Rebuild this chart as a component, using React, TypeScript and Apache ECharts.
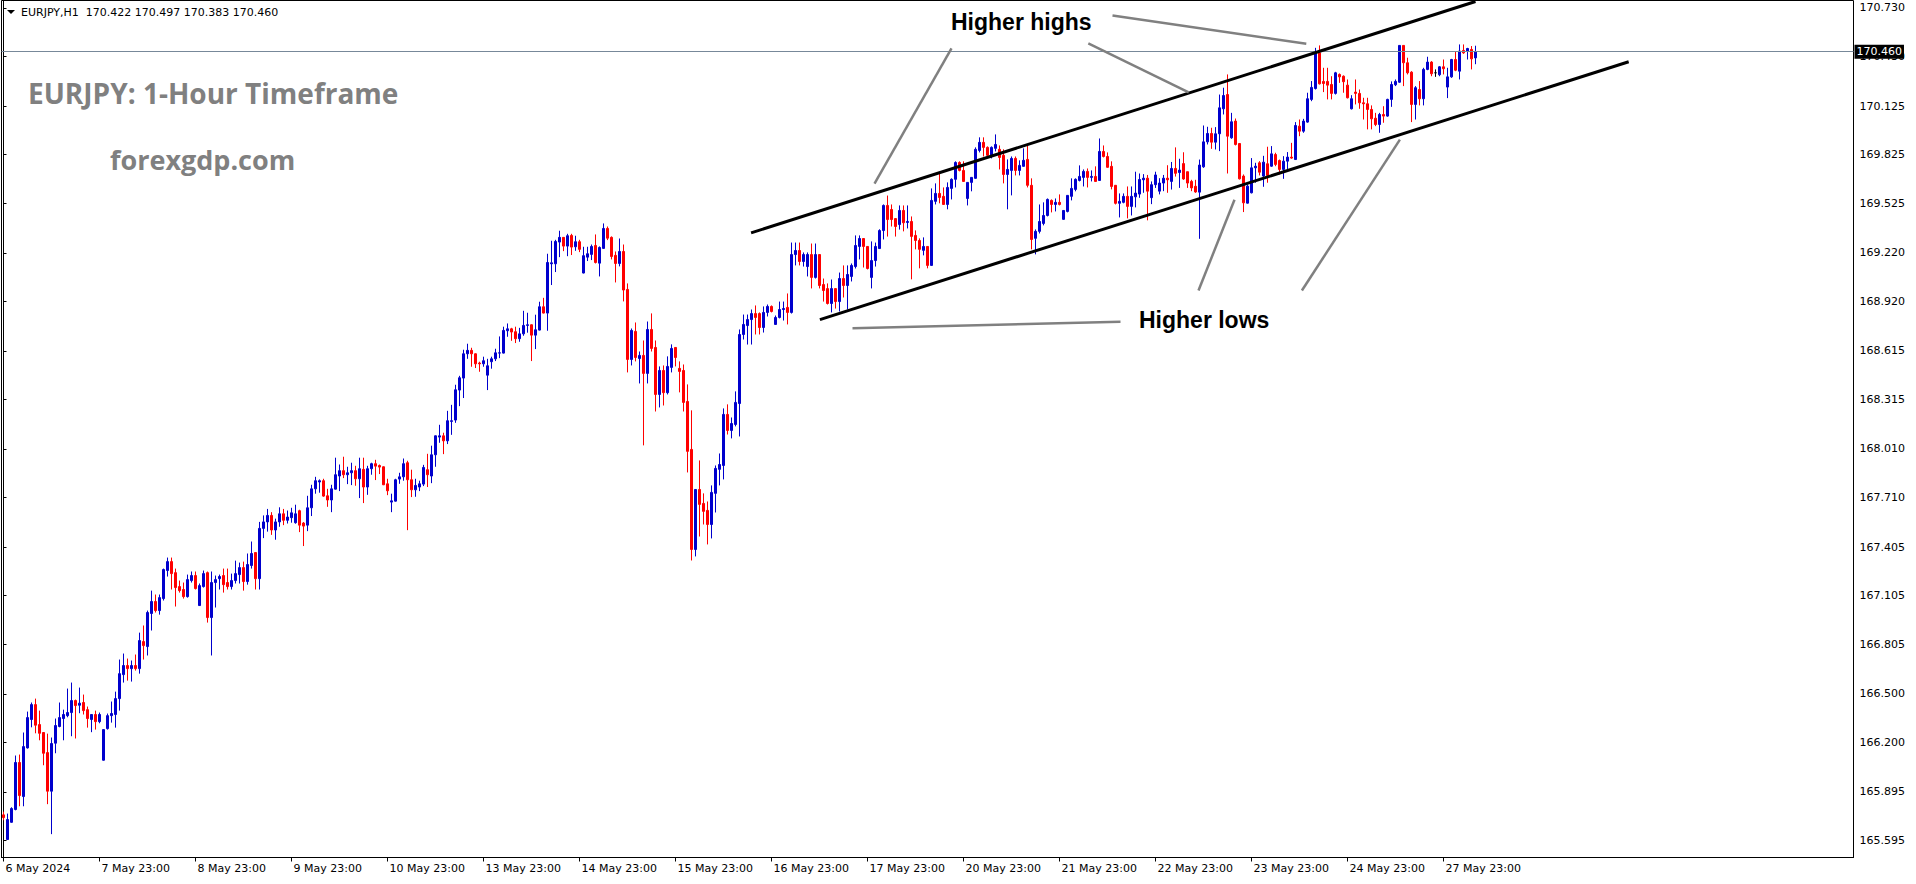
import React, { useEffect, useRef } from "react";
import * as echarts from "echarts";

// [open, high, low, close] per hourly bar, grouped by trading day
const may06 = [[165.753,165.773,165.720,165.736]];
const may07 = [
[165.601,165.761,165.598,165.724],[165.707,165.800,165.705,165.792],[165.786,166.119,165.781,166.076],[166.076,166.125,165.806,165.872],
[165.866,166.261,165.806,166.174],[166.166,166.390,166.162,166.353],[166.341,166.446,166.293,166.433],[166.433,166.470,166.256,166.306],
[166.310,166.396,166.213,166.256],[166.261,166.263,166.059,166.133],[166.137,166.254,165.819,165.899],[165.899,166.230,165.634,166.193],
[166.195,166.347,166.133,166.304],[166.298,166.446,166.293,166.353],[166.347,166.402,166.213,166.372],[166.365,166.532,166.355,166.384],
[166.384,166.569,166.238,166.458],[166.458,166.464,166.224,166.427],[166.429,166.538,166.380,166.442],[166.446,166.495,166.372,166.396],
[166.402,166.421,166.291,166.347],[166.341,166.374,166.263,166.372],[166.372,166.396,166.279,166.328],[166.328,166.384,166.318,166.372]];
const may08 = [
[166.090,166.281,166.088,166.279],[166.285,166.378,166.279,166.365],[166.365,166.452,166.322,166.378],[166.372,166.513,166.291,166.470],
[166.470,166.711,166.396,166.624],[166.618,166.748,166.569,166.674],[166.674,166.717,166.581,166.655],[166.655,166.705,166.575,166.674],
[166.674,166.742,166.643,166.655],[166.655,166.877,166.624,166.828],[166.822,166.921,166.711,166.797],[166.791,167.013,166.736,167.001],
[166.995,167.136,166.890,167.069],[167.069,167.112,167.001,167.013],[167.013,167.112,166.988,167.093],[167.087,167.272,167.075,167.266],
[167.260,167.340,167.223,167.315],[167.315,167.340,167.143,167.241],[167.247,167.272,167.038,167.155],[167.161,167.198,167.124,167.136],
[167.143,167.186,167.087,167.099],[167.099,167.235,167.093,167.204],[167.198,167.254,167.186,167.229],[167.229,167.254,167.143,167.149]];
const may09 = [
[167.044,167.180,167.042,167.167],[167.161,167.260,167.155,167.241],[167.247,167.254,166.939,166.970],[166.970,167.254,166.736,167.186],
[167.186,167.229,167.032,167.204],[167.210,167.235,167.143,167.223],[167.229,167.272,167.124,167.173],[167.186,167.272,167.143,167.161],
[167.161,167.241,167.143,167.198],[167.198,167.321,167.180,167.241],[167.235,167.309,167.180,167.278],[167.278,167.315,167.136,167.192],
[167.192,167.365,167.173,167.297],[167.291,167.439,167.272,167.365],[167.371,167.371,167.143,167.210],[167.210,167.560,167.143,167.520],
[167.520,167.600,167.460,167.560],[167.560,167.640,167.500,167.600],[167.600,167.620,167.480,167.510],[167.510,167.580,167.450,167.560],
[167.560,167.650,167.530,167.610],[167.610,167.640,167.540,167.570],[167.570,167.630,167.550,167.590],[167.586,167.647,167.555,167.616]];
const may10 = [
[167.555,167.666,167.549,167.610],[167.629,167.635,167.497,167.540],[167.553,167.559,167.411,167.534],[167.540,167.721,167.503,167.647],
[167.647,167.789,167.596,167.764],[167.764,167.838,167.734,167.814],[167.806,167.822,167.740,167.814],[167.814,167.826,167.715,167.719],
[167.721,167.764,167.653,167.695],[167.695,167.789,167.620,167.764],[167.762,167.956,167.760,167.851],[167.843,167.914,167.750,167.876],
[167.876,167.962,167.830,167.851],[167.851,167.900,167.793,167.863],[167.863,167.925,167.787,167.876],[167.876,167.906,167.783,167.826],
[167.826,167.956,167.707,167.888],[167.884,167.956,167.676,167.775],[167.775,167.906,167.727,167.888],[167.888,167.925,167.851,167.919],
[167.919,167.943,167.818,167.904],[167.908,167.914,167.855,167.898],[167.900,167.902,167.787,167.789],[167.795,167.826,167.725,167.752]];
const may13 = [
[167.682,167.734,167.620,167.690],[167.688,167.826,167.686,167.820],[167.824,167.863,167.795,167.838],[167.838,167.951,167.814,167.919],
[167.925,167.937,167.509,167.820],[167.820,167.882,167.713,167.758],[167.758,167.826,167.715,167.785],[167.775,167.814,167.750,167.795],
[167.793,167.912,167.781,167.896],[167.882,167.980,167.775,167.851],[167.843,168.030,167.799,167.974],[167.974,168.093,167.900,168.091],
[168.083,168.159,168.048,168.091],[168.091,168.110,167.978,168.060],[168.060,168.245,168.040,168.184],[168.180,168.282,168.097,168.184],
[168.188,168.406,168.171,168.375],[168.373,168.461,168.274,168.449],[168.447,168.622,168.324,168.597],[168.597,168.659,168.566,168.618],
[168.618,168.634,168.517,168.597],[168.597,168.599,168.509,168.535],[168.540,168.548,168.486,168.535],[168.535,168.579,168.517,168.554]];
const may14 = [
[168.465,168.566,168.373,168.523],[168.548,168.579,168.505,168.566],[168.566,168.628,168.552,168.603],[168.601,168.704,168.570,168.603],
[168.601,168.764,168.599,168.741],[168.739,168.784,168.702,168.751],[168.751,168.757,168.677,168.731],[168.733,168.764,168.663,168.690],
[168.690,168.757,168.671,168.720],[168.720,168.862,168.708,168.772],[168.772,168.850,168.727,168.776],[168.776,168.778,168.552,168.712],
[168.712,168.838,168.626,168.745],[168.743,168.918,168.741,168.887],[168.887,168.942,168.846,168.848],[168.848,169.214,168.739,169.160],
[169.152,169.294,169.021,169.158],[169.152,169.300,169.101,169.290],[169.286,169.356,169.193,169.315],[169.315,169.317,169.230,169.261],
[169.261,169.337,169.199,169.325],[169.327,169.337,169.206,169.255],[169.257,169.325,169.232,169.288],[169.288,169.300,169.224,169.241]];
const may15 = [
[169.095,169.257,169.093,169.202],[169.193,169.257,169.169,169.214],[169.210,169.271,169.175,169.259],[169.265,169.333,169.154,169.160],
[169.156,169.259,169.074,169.253],[169.247,169.401,169.245,169.370],[169.370,169.382,169.298,169.310],[169.315,169.321,169.179,169.197],
[169.204,169.228,169.037,169.154],[169.154,169.308,169.136,169.228],[169.228,169.271,168.920,168.990],[168.994,169.031,168.482,168.562],
[168.562,168.753,168.525,168.741],[168.735,168.790,168.550,168.574],[168.568,168.611,168.414,168.587],[168.587,168.679,168.032,168.476],
[168.476,168.796,168.414,168.747],[168.747,168.846,168.611,168.630],[168.636,168.679,168.241,168.346],[168.346,168.519,168.266,168.494],
[168.494,168.525,168.278,168.357],[168.357,168.581,168.346,168.519],[168.513,168.655,168.482,168.630],[168.636,168.638,168.519,168.574]];
const may16 = [
[168.507,168.550,168.359,168.488],[168.494,168.531,168.241,168.297],[168.303,168.408,167.865,167.995],[168.007,168.248,167.322,167.390],
[167.390,167.762,167.347,167.760],[167.760,167.939,167.470,167.668],[167.674,167.736,167.544,167.625],[167.631,167.686,167.421,167.544],
[167.544,167.785,167.458,167.742],[167.736,167.908,167.618,167.890],[167.884,167.982,167.785,167.914],[167.908,168.260,167.822,168.223],
[168.223,168.285,168.099,168.124],[168.124,168.204,168.075,168.167],[168.161,168.365,168.149,168.297],[168.290,168.747,168.087,168.716],
[168.716,168.839,168.685,168.778],[168.771,168.839,168.654,168.808],[168.808,168.870,168.654,168.845],[168.845,168.895,168.716,168.821],
[168.845,168.852,168.716,168.759],[168.759,168.889,168.728,168.852],[168.852,168.901,168.827,168.889],[168.889,168.895,168.852,168.858]];
const may17 = [
[168.778,168.833,168.776,168.821],[168.821,168.919,168.815,168.870],[168.870,168.919,168.802,168.876],[168.883,168.969,168.778,168.852],
[168.852,169.283,168.845,169.209],[169.209,169.283,169.142,169.234],[169.234,169.283,169.142,169.166],[169.166,169.222,169.135,169.209],
[169.135,169.222,169.074,169.209],[169.209,169.277,169.000,169.068],[169.068,169.277,169.061,169.209],[169.209,169.211,169.000,169.018],
[169.024,169.061,168.919,168.987],[168.999,169.031,168.901,168.907],[168.907,169.055,168.852,168.999],[168.999,169.001,168.876,168.919],
[168.919,169.098,168.858,169.061],[169.061,169.142,168.944,169.018],[169.018,169.142,168.870,169.086],[169.074,169.154,169.043,169.142],
[169.135,169.327,169.123,169.265],[169.259,169.327,169.179,169.308],[169.308,169.310,169.129,169.259],[169.259,169.261,169.117,169.123]];
const may20 = [
[169.068,169.290,169.000,169.172],[169.172,169.283,169.135,169.259],[169.246,169.365,169.244,169.357],[169.357,169.518,169.302,169.512],
[169.512,169.573,169.320,169.425],[169.487,169.518,169.382,169.425],[169.431,169.433,169.320,169.382],[169.394,169.512,169.363,169.481],
[169.481,169.512,169.352,169.405],[169.407,169.512,169.370,169.413],[169.413,169.444,169.056,169.321],[169.327,169.358,169.241,169.296],
[169.296,169.309,169.124,169.241],[169.235,169.315,169.204,169.259],[169.259,169.261,169.124,169.142],[169.142,169.617,169.140,169.543],
[169.537,169.648,169.518,169.586],[169.586,169.710,169.525,169.561],[169.568,169.623,169.516,169.518],[169.518,169.654,169.488,169.623],
[169.617,169.679,169.549,169.673],[169.673,169.784,169.623,169.777],[169.777,169.784,169.722,169.728],[169.728,169.784,169.658,169.660]];
const may21 = [
[169.555,169.656,169.512,169.654],[169.654,169.687,169.599,169.685],[169.679,169.870,169.677,169.858],[169.851,169.932,169.839,169.901],
[169.901,169.932,169.814,169.870],[169.870,169.876,169.814,169.821],[169.821,169.876,169.802,169.870],[169.864,169.950,169.845,169.888],
[169.858,169.882,169.734,169.808],[169.821,169.858,169.648,169.703],[169.703,169.796,169.488,169.734],[169.728,169.814,169.574,169.802],
[169.802,169.814,169.697,169.728],[169.728,169.790,169.697,169.759],[169.753,169.864,169.751,169.790],[169.796,169.882,169.623,169.636],
[169.636,169.679,169.241,169.302],[169.309,169.364,169.210,169.352],[169.352,169.518,169.339,169.413],[169.401,169.531,169.389,169.450],
[169.450,169.555,169.444,169.549],[169.543,169.549,169.469,169.518],[169.518,169.555,169.475,169.531],[169.531,169.580,169.512,169.518]];
const may22 = [
[169.426,169.483,169.424,169.481],[169.475,169.576,169.469,169.574],[169.568,169.679,169.543,169.617],[169.611,169.679,169.599,169.673],
[169.666,169.759,169.660,169.691],[169.685,169.734,169.629,169.722],[169.722,169.740,169.623,169.685],[169.685,169.728,169.660,169.691],
[169.691,169.753,169.658,169.660],[169.666,169.925,169.664,169.845],[169.845,169.882,169.808,169.814],[169.814,169.839,169.745,169.747],
[169.753,169.784,169.611,169.629],[169.636,169.638,169.518,169.525],[169.525,169.586,169.438,169.537],[169.531,169.586,169.525,169.568],
[169.568,169.629,169.432,169.506],[169.506,169.629,169.450,169.568],[169.565,169.720,169.500,169.588],[169.582,169.709,169.559,169.672],
[169.670,169.705,169.590,169.680],[169.680,169.700,169.420,169.600],[169.560,169.660,169.520,169.640],[169.640,169.720,169.620,169.700]];
const may23 = [
[169.600,169.680,169.580,169.650],[169.650,169.700,169.600,169.680],[169.680,169.760,169.590,169.670],[169.660,169.780,169.610,169.740],
[169.740,169.870,169.690,169.710],[169.715,169.800,169.620,169.730],[169.770,169.840,169.670,169.675],[169.720,169.720,169.620,169.650],
[169.660,169.670,169.600,169.620],[169.630,169.670,169.590,169.595],[169.594,169.795,169.306,169.761],[169.750,170.005,169.744,169.904],
[169.904,169.997,169.888,169.956],[169.956,169.991,169.861,169.902],[169.902,169.995,169.857,169.954],[169.954,170.196,169.847,170.114],
[170.108,170.238,170.073,170.190],[170.196,170.320,169.709,169.939],[169.929,170.083,169.923,170.028],[170.032,170.048,169.882,169.888],
[169.894,169.896,169.672,169.676],[169.693,169.703,169.471,169.528],[169.526,169.641,169.524,169.631],[169.590,169.804,169.586,169.744]];
const may24 = [
[169.744,169.775,169.652,169.754],[169.775,169.785,169.697,169.717],[169.693,169.818,169.627,169.779],[169.769,169.874,169.652,169.697],
[169.754,169.878,169.750,169.830],[169.826,169.837,169.754,169.765],[169.789,169.795,169.703,169.734],[169.734,169.816,169.676,169.785],
[169.785,169.841,169.734,169.810],[169.810,169.898,169.800,169.804],[169.795,170.026,169.793,170.005],[170.001,170.042,169.939,169.970],
[169.970,170.046,169.960,170.032],[170.026,170.207,170.022,170.170],[170.166,170.279,170.155,170.240],[170.233,170.484,170.227,170.453],
[170.453,170.499,170.258,170.262],[170.277,170.361,170.211,170.264],[170.277,170.361,170.166,170.254],[170.258,170.309,170.166,170.203],
[170.203,170.336,170.196,170.330],[170.320,170.326,170.268,170.305],[170.309,170.314,170.207,170.275],[170.254,170.289,170.172,170.176]];
const may27 = [
[170.108,170.192,170.104,170.170],[170.211,170.289,170.135,170.203],[170.203,170.227,170.108,170.145],[170.145,170.176,170.042,170.139],
[170.139,170.176,169.981,170.104],[170.104,170.129,169.981,170.046],[170.050,170.083,170.001,170.011],[170.011,170.083,169.960,170.073],
[170.073,170.124,170.022,170.063],[170.063,170.170,170.059,170.166],[170.166,170.277,170.120,170.258],[170.256,170.289,170.248,170.277],
[170.272,170.499,170.268,170.499],[170.499,170.499,170.248,170.392],[170.392,170.423,170.320,170.330],[170.334,170.340,170.026,170.135],
[170.135,170.248,170.042,170.238],[170.227,170.279,170.129,170.170],[170.170,170.361,170.129,170.351],[170.351,170.429,170.346,170.396],
[170.396,170.402,170.309,170.324],[170.330,170.351,170.305,170.330],[170.318,170.371,170.309,170.367],[170.367,170.412,170.320,170.355]];
const may28 = [
[170.242,170.361,170.174,170.305],[170.305,170.416,170.299,170.412],[170.412,170.464,170.340,170.346],[170.340,170.505,170.289,170.464],
[170.468,170.505,170.447,170.453],[170.464,170.484,170.412,170.480],[170.474,170.495,170.351,170.416],[170.422,170.497,170.383,170.460]];

const timeLabels = ["6 May 2024","7 May 23:00","8 May 23:00","9 May 23:00","10 May 23:00","13 May 23:00","14 May 23:00",
  "15 May 23:00","16 May 23:00","17 May 23:00","20 May 23:00","21 May 23:00","22 May 23:00","23 May 23:00","24 May 23:00","27 May 23:00"];
const priceTicks = [170.730,170.430,170.125,169.825,169.525,169.220,168.920,168.615,168.315,168.010,167.710,167.405,
  167.105,166.805,166.500,166.200,165.895,165.595];
const lastPrice = 170.460;
const headerText = "EURJPY,H1  170.422 170.497 170.383 170.460";

// trend lines: [bar position, price]
const upperChannel = [[186.9,169.343],[368.0,170.770]];
const lowerChannel = [[204.1,168.808],[406.3,170.398]];
const highsPointers = [
  [[217.75,169.647],[237.0,170.480]],
  [[271.2,170.511],[296.3,170.210]],
  [[277.25,170.684],[325.7,170.509]],
];
const lowsPointers = [
  [[212.25,168.755],[279.25,168.794]],
  [[298.75,168.987],[307.75,169.547]],
  [[324.6,168.987],[349.1,169.918]],
];

const TOTAL_SLOTS = 463;
const BARS_PER_LABEL = 24;

export default function App() {
  const ref = useRef<HTMLDivElement>(null);
  useEffect(() => {
    document.body.style.margin = "0";
    const chart = echarts.init(ref.current!, null, { renderer: "svg" });
    const candles = [may06, may07, may08, may09, may10, may13, may14, may15, may16, may17,
      may20, may21, may22, may23, may24, may27, may28].flat();
    const showIdx = (i: number) => i % BARS_PER_LABEL === 0 && i / BARS_PER_LABEL < timeLabels.length;
    const font = "DejaVu Sans";
    const lineSeries = (data: number[][], color: string, width: number) => ({
      type: "line", xAxisIndex: 1, yAxisIndex: 0, data, symbol: "none", showSymbol: false,
      silent: true, lineStyle: { color, width }, z: 5,
    });
    chart.setOption({
      animation: false,
      backgroundColor: "#fff",
      grid: { left: 1.5, top: 0.5, width: 1852, height: 857, show: true, borderColor: "#000", borderWidth: 1,
        containLabel: false, outerBoundsMode: "none" },
      xAxis: [
        {
          type: "category",
          data: Array.from({ length: TOTAL_SLOTS }, (_, i) => String(i)),
          boundaryGap: true,
          axisLine: { show: true, lineStyle: { color: "#000", width: 1 } },
          axisTick: { show: true, alignWithLabel: true, interval: showIdx, length: 4, lineStyle: { color: "#000" } },
          axisLabel: {
            interval: showIdx, align: "left", margin: 5, padding: [0, 0, 0, 2],
            formatter: (_v: string, i: number) => timeLabels[i / BARS_PER_LABEL] ?? "",
            fontFamily: font, fontSize: 11, color: "#000",
          },
          splitLine: { show: false },
        },
        { type: "value", min: -0.5, max: TOTAL_SLOTS - 0.5, show: false },
      ],
      yAxis: [{
        type: "value", position: "right", min: 165.49, max: 170.776, scale: true,
        axisLine: { show: true, lineStyle: { color: "#000" } },
        axisTick: { show: true, customValues: priceTicks, length: 3, lineStyle: { color: "#000" } },
        axisLabel: { customValues: priceTicks, formatter: (v: number) => v.toFixed(3), margin: 6,
          fontFamily: font, fontSize: 11, color: "#000" },
        splitLine: { show: false },
      }],
      series: [
        {
          type: "candlestick", xAxisIndex: 0, yAxisIndex: 0,
          data: candles.map(([o, h, l, c]) => [o, c, l, h]),
          barWidth: 2,
          itemStyle: { color: "#0000cd", color0: "#ff0000", borderColor: "#0000cd", borderColor0: "#ff0000",
            borderColorDoji: "#000", borderWidth: 1 },
          z: 3,
          markLine: {
            symbol: ["none", "none"], silent: true, animation: false,
            lineStyle: { color: "#778899", width: 1, type: "solid" },
            label: { show: true, position: "end", formatter: lastPrice.toFixed(3), color: "#fff",
              backgroundColor: "#000", padding: [2, 2, 1, 2], fontFamily: font, fontSize: 11, distance: 1 },
            data: [{ yAxis: lastPrice }],
          },
        },
        lineSeries(upperChannel, "#000", 3),
        lineSeries(lowerChannel, "#000", 3),
        ...highsPointers.map((d) => lineSeries(d, "#808080", 2.5)),
        ...lowsPointers.map((d) => lineSeries(d, "#808080", 2.5)),
      ],
      graphic: [
        { type: "polygon", shape: { points: [[7, 10], [15, 10], [11, 14]] }, style: { fill: "#000" } },
        { type: "text", x: 21, y: 12.5, style: { text: headerText, fontFamily: font, fontSize: 11, fill: "#000", verticalAlign: "middle" } },
        { type: "text", x: 28, y: 93, style: { text: "EURJPY: 1-Hour Timeframe", fontFamily: "Open Sans", fontWeight: "bold", fontSize: 28, fill: "#808080", verticalAlign: "middle" } },
        { type: "text", x: 110, y: 159, style: { text: "forexgdp.com", fontFamily: "Open Sans", fontWeight: "bold", fontSize: 27, fill: "#808080", verticalAlign: "middle" } },
        { type: "text", x: 951, y: 22, z: 10, style: { text: "Higher highs", fontFamily: "Liberation Sans", fontWeight: "bold", fontSize: 23, fill: "#000", verticalAlign: "middle" } },
        { type: "text", x: 1139, y: 320, z: 10, style: { text: "Higher lows", fontFamily: "Liberation Sans", fontWeight: "bold", fontSize: 23, fill: "#000", verticalAlign: "middle" } },
      ],
    });
    return () => chart.dispose();
  }, []);
  return <div ref={ref} style={{ position: "absolute", left: 0, top: 0, width: 1916, height: 884 }} />;
}
